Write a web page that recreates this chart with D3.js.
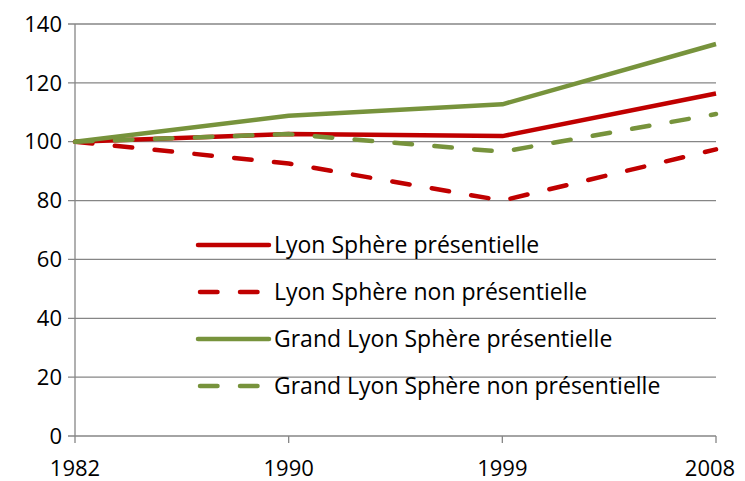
<!DOCTYPE html>
<html>
<head>
<meta charset="utf-8">
<script src="https://cdn.jsdelivr.net/npm/d3@7"></script>
<style>
  body { margin: 0; background: #fff; }
  svg { display: block; font-family: "Open Sans", sans-serif; }
</style>
</head>
<body>
<svg width="745" height="481"></svg>
<script>
// data ************************************************************
var years = ["1982", "1990", "1999", "2008"];
var yTicks = [0, 20, 40, 60, 80, 100, 120, 140];

var lyonPres = [100, 102.6, 101.9, 116.4];
var lyonNonPres = [100, 92.6, 80, 97.4];
var grandLyonPres = [100, 108.8, 112.7, 133.2];
var grandLyonNonPres = [100, 102.6, 96.6, 109.4];

var series = [
    { name: "Lyon Sphère présentielle", values: lyonPres, color: "#C00000", dashed: false },
    { name: "Lyon Sphère non présentielle", values: lyonNonPres, color: "#C00000", dashed: true },
    { name: "Grand Lyon Sphère présentielle", values: grandLyonPres, color: "#77933C", dashed: false },
    { name: "Grand Lyon Sphère non présentielle", values: grandLyonNonPres, color: "#77933C", dashed: true }
];

// layout ***********************************************************
var svg = d3.select('svg');
var plotLeft = 75, plotRight = 716, plotTop = 24, plotBottom = 436;
var fontSize = 23;

var x = d3.scalePoint()
    .domain(years)
    .range([plotLeft, plotRight]);

var y = d3.scaleLinear()
    .domain([0, 140])
    .range([plotBottom, plotTop]);

var gridColor = "#868686";

// gridlines
svg.append('g')
    .selectAll('line')
    .data(yTicks)
    .enter().append('line')
    .attr('x1', plotLeft - 7)
    .attr('x2', plotRight)
    .attr('y1', d => y(d))
    .attr('y2', d => y(d))
    .attr('stroke', gridColor)
    .attr('stroke-width', 1.3);

// y axis line
svg.append('line')
    .attr('x1', plotLeft).attr('x2', plotLeft)
    .attr('y1', plotTop).attr('y2', plotBottom)
    .attr('stroke', gridColor)
    .attr('stroke-width', 1.3);

// x ticks
svg.append('g')
    .selectAll('line')
    .data(years)
    .enter().append('line')
    .attr('x1', d => x(d))
    .attr('x2', d => x(d))
    .attr('y1', plotBottom)
    .attr('y2', plotBottom + 7)
    .attr('stroke', gridColor)
    .attr('stroke-width', 1.3);

// y labels
svg.append('g')
    .selectAll('text')
    .data(yTicks)
    .enter().append('text')
    .attr('x', 62)
    .attr('y', d => y(d))
    .attr('dy', '0.35em')
    .attr('text-anchor', 'end')
    .attr('font-size', fontSize - 1)
    .attr('fill', '#000')
    .text(d => d);

// x labels
svg.append('g')
    .selectAll('text')
    .data(years)
    .enter().append('text')
    .attr('x', (d, i) => i === years.length - 1 ? x(d) - 6 : x(d))
    .attr('y', 476)
    .attr('text-anchor', 'middle')
    .attr('font-size', fontSize - 1)
    .attr('fill', '#000')
    .text(d => d);

// lines
var line = d3.line()
    .x((d, i) => x(years[i]))
    .y(d => y(d));

svg.append('g')
    .selectAll('path')
    .data(series)
    .enter().append('path')
    .attr('d', d => line(d.values))
    .attr('fill', 'none')
    .attr('stroke', d => d.color)
    .attr('stroke-width', 4.5)
    .attr('stroke-linecap', d => d.dashed ? 'round' : 'butt')
    .attr('stroke-linejoin', 'round')
    .attr('stroke-dasharray', d => d.dashed ? '17.5,22.5' : null);

// legend
var legend = svg.append('g')
    .selectAll('g')
    .data(series)
    .enter().append('g')
    .attr('transform', (d, i) => `translate(198, ${245 + i * 47})`);

legend.append('line')
    .attr('x1', d => d.dashed ? 2 : 0)
    .attr('x2', 71)
    .attr('stroke', d => d.color)
    .attr('stroke-width', 4.5)
    .attr('stroke-linecap', 'round')
    .attr('stroke-dasharray', d => d.dashed ? '17.5,22.5' : null);

legend.append('text')
    .attr('x', 76)
    .attr('dy', '0.35em')
    .attr('font-size', fontSize)
    .attr('fill', '#000')
    .text(d => d.name);
</script>
</body>
</html>
